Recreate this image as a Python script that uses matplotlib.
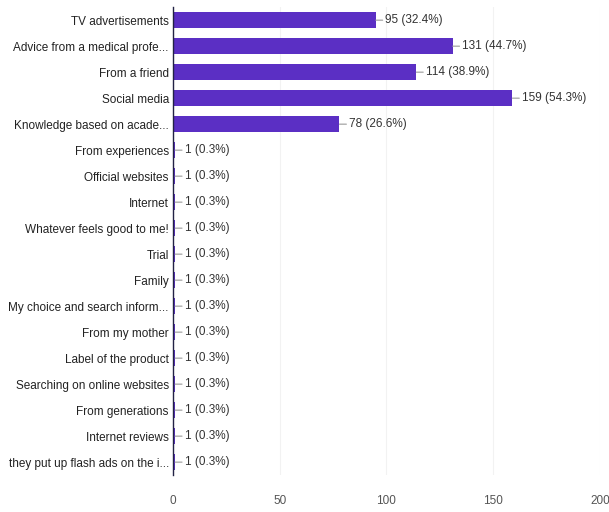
import matplotlib.pyplot as plt

categories = [
    "TV advertisements",
    "Advice from a medical profe...",
    "From a friend",
    "Social media",
    "Knowledge based on acade...",
    "From experiences",
    "Official websites",
    "Internet",
    "Whatever feels good to me!",
    "Trial",
    "Family",
    "My choice and search inform...",
    "From my mother",
    "Label of the product",
    "Searching on online websites",
    "From generations",
    "Internet reviews",
    "they put up flash ads on the i...",
]
counts = [95, 131, 114, 159, 78, 1, 1, 1, 1, 1, 1, 1, 1, 1, 1, 1, 1, 1]
percents = ["32.4%", "44.7%", "38.9%", "54.3%", "26.6%"] + ["0.3%"] * 13
xticks = [0, 50, 100, 150, 200]

plt.rcParams["font.family"] = ["Liberation Sans", "DejaVu Sans"]

fig = plt.figure(figsize=(6.09, 5.12), dpi=100)
ax = fig.add_axes([0.284, 0.072, 0.701, 0.914])

ypos = list(range(len(categories)))
ax.barh(ypos, counts, height=0.62, color="#5b2fc4")

for y, c, p in zip(ypos, counts, percents):
    ax.annotate(f"{c} ({p})", xy=(c, y), xytext=(7, 0), textcoords="offset points",
                va="center", ha="left", fontsize=8.5, color="#333333",
                arrowprops=dict(arrowstyle="-", color="#999999", lw=0.8,
                                shrinkA=0, shrinkB=0))

ax.set_xlim(0, 200)
ax.set_ylim(len(categories) - 0.5, -0.5)
ax.set_xticks(xticks)
ax.set_yticks(ypos)
ax.set_yticklabels(categories, fontsize=8.5, color="#222222")
ax.tick_params(axis="y", length=0, pad=3)
ax.tick_params(axis="x", length=0, pad=14, labelsize=8.5, labelcolor="#555555")
ax.grid(axis="x", color="#f2f2f2", lw=0.8)
ax.set_axisbelow(True)
for side in ["top", "right", "bottom"]:
    ax.spines[side].set_visible(False)
ax.spines["left"].set_color("#222244")
ax.spines["left"].set_linewidth(1.0)

plt.savefig("out.png", dpi=100)
plt.close()
